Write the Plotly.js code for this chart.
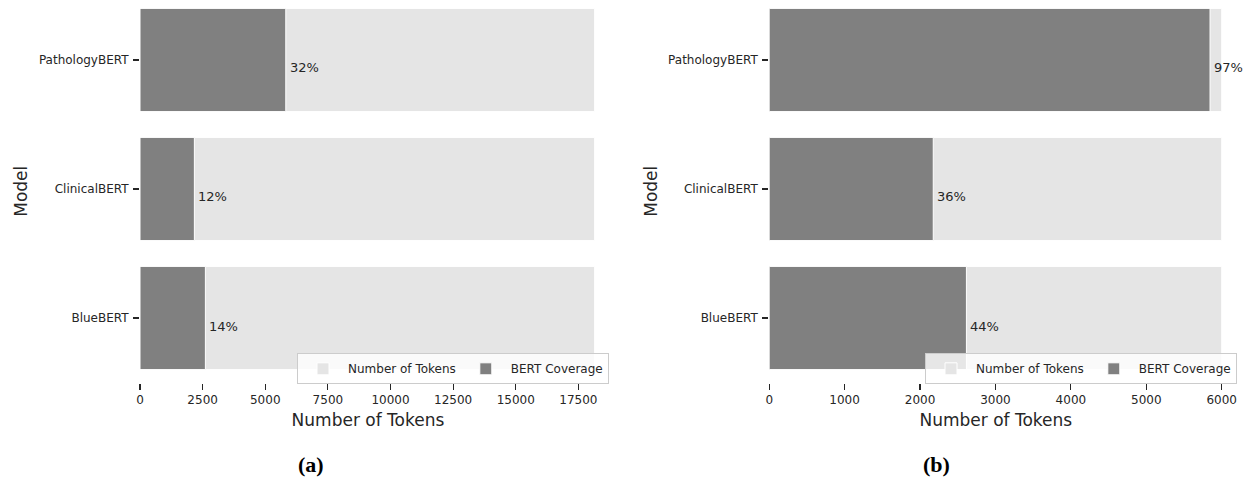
<!DOCTYPE html>
<html>
<head>
<meta charset="utf-8">
<script src="https://cdn.plot.ly/plotly-3.0.1.min.js"></script>
<style>html,body{margin:0;padding:0;background:#fff;}#chart{width:1244px;height:478px;}</style>
</head>
<body>
<div id="chart"></div>
<script>
// ---- data ----
const models = ["PathologyBERT", "ClinicalBERT", "BlueBERT"];
const totalTokensA = [18150, 18150, 18150];
const coverageA = [5820, 2170, 2610];
const percentLabelsA = ["32%", "12%", "14%"];
const totalTokensB = [6000, 6000, 6000];
const coverageB = [5845, 2175, 2615];
const percentLabelsB = ["97%", "36%", "44%"];
const xTicksA = [0, 2500, 5000, 7500, 10000, 12500, 15000, 17500];
const xTicksB = [0, 1000, 2000, 3000, 4000, 5000, 6000];

const W = 1244, H = 478;
const LIGHT = "#e5e5e5", DARK = "#808080", TXT = "#262626";
const FONT = "DejaVu Sans, sans-serif";

function barTrace(x, name, color, xa, ya, legend, showlegend) {
  return {
    type: "bar", orientation: "h", x: x, y: models, name: name,
    xaxis: xa, yaxis: ya, legend: legend, showlegend: showlegend,
    marker: {color: color, line: {color: "#ffffff", width: 1}},
    hoverinfo: "x+y"
  };
}

const data = [
  barTrace(totalTokensA, "Number of Tokens", LIGHT, "x", "y", "legend", true),
  barTrace(coverageA, "BERT Coverage", DARK, "x", "y", "legend", true),
  barTrace(totalTokensB, "Number of Tokens", LIGHT, "x2", "y2", "legend2", true),
  barTrace(coverageB, "BERT Coverage", DARK, "x2", "y2", "legend2", true)
];

const yDom = [1 - 382.5 / H, 1];
function xAxis(domPx, range, ticks) {
  return {
    domain: [domPx[0] / W, domPx[1] / W], range: range,
    tickmode: "array", tickvals: ticks, ticktext: ticks.map(String),
    ticks: "outside", ticklen: 6, tickwidth: 1.2, tickcolor: TXT,
    showline: false, showgrid: false, zeroline: false,
    tickfont: {family: FONT, size: 12, color: TXT},
    title: {text: "Number of Tokens", font: {family: FONT, size: 17, color: TXT}, standoff: 8},
    automargin: false
  };
}
function yAxis(anchor) {
  return {
    domain: yDom, anchor: anchor, type: "category",
    categoryorder: "array", categoryarray: models,
    range: [2.5, -0.465],
    ticks: "outside", ticklen: 6, tickwidth: 1.2, tickcolor: TXT,
    showline: false, showgrid: false, zeroline: false,
    tickfont: {family: FONT, size: 12, color: TXT},
    ticklabelstandoff: 2,
    title: {text: "Model", font: {family: FONT, size: 17, color: TXT}, standoff: 6},
    automargin: false
  };
}

const annotations = [];
function addPct(cov, labels, xref, yref) {
  cov.forEach((v, i) => {
    annotations.push({
      x: v, y: models[i], xref: xref, yref: yref, text: labels[i],
      showarrow: false, xanchor: "left", yanchor: "middle",
      xshift: 2, yshift: -8,
      font: {family: FONT, size: 13, color: TXT}
    });
  });
}
addPct(coverageA, percentLabelsA, "x", "y");
addPct(coverageB, percentLabelsB, "x2", "y2");
const SERIF = "Liberation Serif, Times New Roman, serif";
annotations.push({x: 311 / W, y: 0, xref: "paper", yref: "paper", text: "<b>(a)</b>",
  showarrow: false, xanchor: "center", yanchor: "bottom", borderpad: 0,
  font: {family: SERIF, size: 22, color: "#000"}});
annotations.push({x: 936 / W, y: 0, xref: "paper", yref: "paper", text: "<b>(b)</b>",
  showarrow: false, xanchor: "center", yanchor: "bottom", borderpad: 0,
  font: {family: SERIF, size: 22, color: "#000"}});

function legendCfg(xPx) {
  return {
    orientation: "h", x: xPx / W, y: 1 - 353.3 / H, xanchor: "left", yanchor: "top",
    bgcolor: "rgba(255,255,255,0.8)", bordercolor: "#cccccc", borderwidth: 1,
    font: {family: FONT, size: 12, color: TXT}, traceorder: "normal",
    itemwidth: 40,
    itemclick: false, itemdoubleclick: false
  };
}

const layout = {
  width: W, height: H,
  margin: {l: 0, r: 0, t: 0, b: 0, autoexpand: false},
  paper_bgcolor: "#ffffff", plot_bgcolor: "#ffffff",
  barmode: "overlay", bargap: 0.2,
  font: {family: FONT, color: TXT},
  xaxis: xAxis([140, 140 + 18200 * 0.02505], [0, 18200], xTicksA),
  yaxis: yAxis("x"),
  xaxis2: Object.assign(xAxis([769.2, 769.2 + 6010 * 0.07542], [0, 6010], xTicksB), {anchor: "y2"}),
  yaxis2: yAxis("x2"),
  legend: legendCfg(297),
  legend2: legendCfg(925),
  annotations: annotations,
  showlegend: true
};
layout.xaxis.anchor = "y";

Plotly.newPlot("chart", data, layout, {displayModeBar: false, staticPlot: true});
</script>
</body>
</html>
